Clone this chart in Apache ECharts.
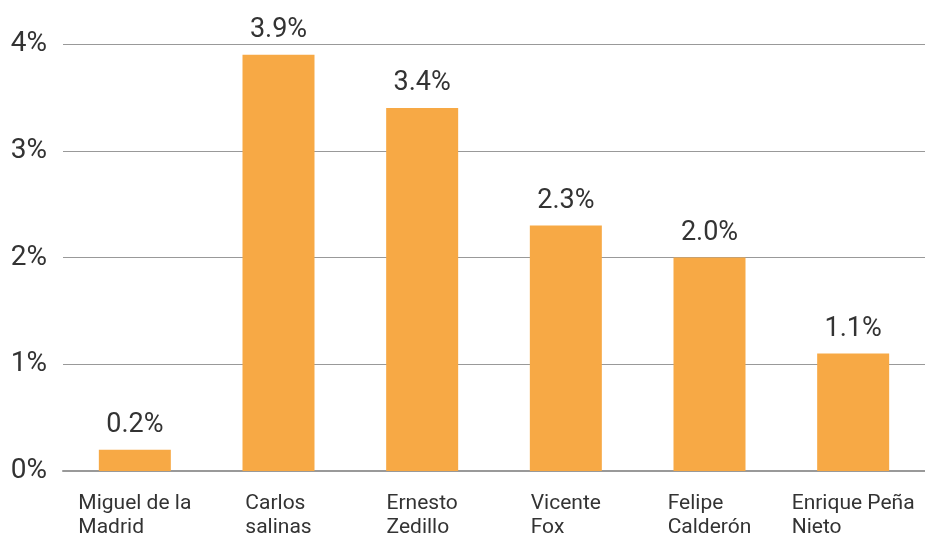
<!DOCTYPE html>
<html>
<head>
    <meta charset="utf-8">
    <title>ECharts</title>
    <script src="https://cdn.jsdelivr.net/npm/echarts@6/dist/echarts.min.js"></script>
    <style>
        html, body { margin: 0; padding: 0; background: #fff; }
    </style>
</head>
<body>
    <div id="main" style="width: 925px;height:533px;"></div>
    <script type="text/javascript">
        // datos
        var presidentes = ['Miguel de la\nMadrid', 'Carlos\nsalinas', 'Ernesto\nZedillo', 'Vicente\nFox', 'Felipe\nCalderón', 'Enrique Peña\nNieto'];
        var crecimiento = [0.2, 3.9, 3.4, 2.3, 2.0, 1.1];
        var ticksY = [0, 1, 2, 3, 4];

        var myChart = echarts.init(document.getElementById('main'));

        myChart.setOption({
            animation: false,
            textStyle: { fontFamily: 'Roboto' },
            grid: { left: 63, right: 0, top: 44, bottom: 62, outerBoundsMode: 'none', containLabel: false },
            xAxis: {
                type: 'category',
                data: presidentes,
                axisLine: { lineStyle: { color: '#999', width: 2 } },
                axisTick: { show: false },
                axisLabel: {
                    margin: 21,
                    formatter: function (v) {
                        return v.split('\n').map(function (s) { return '{a|' + s + '}'; }).join('\n');
                    },
                    rich: {
                        a: { align: 'left', fontSize: 21, lineHeight: 24, color: '#333', fontFamily: 'Roboto' }
                    }
                }
            },
            yAxis: {
                type: 'value',
                min: ticksY[0],
                max: ticksY[ticksY.length - 1],
                interval: 1,
                axisLabel: {
                    margin: 16,
                    fontSize: 28,
                    color: '#333',
                    formatter: '{value}%'
                },
                splitLine: { lineStyle: { color: '#999', width: 1 } }
            },
            series: [{
                type: 'bar',
                data: crecimiento,
                barWidth: 72,
                itemStyle: { color: '#F7A945' },
                label: {
                    show: true,
                    position: 'top',
                    distance: 11,
                    fontSize: 27,
                    color: '#333',
                    formatter: function (p) { return p.value.toFixed(1) + '%'; }
                }
            }]
        });
    </script>
</body>
</html>
